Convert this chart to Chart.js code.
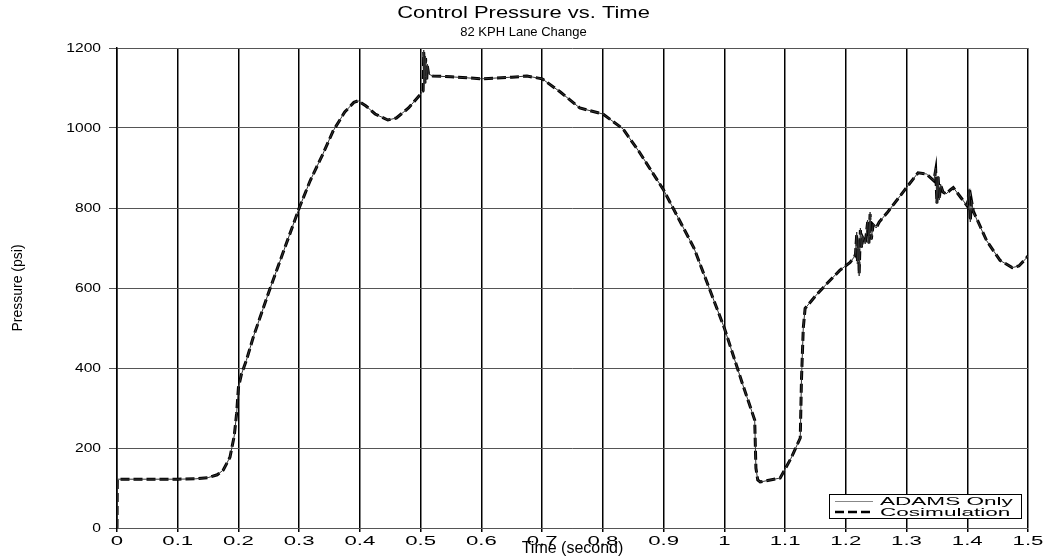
<!DOCTYPE html>
<html>
<head>
<meta charset="utf-8">
<script src="https://cdn.jsdelivr.net/npm/chart.js@4"></script>
<style>
  html, body { margin: 0; padding: 0; background: #fff; }
  #wrap { width: 1047px; height: 559px; }
</style>
</head>
<body>
<div id="wrap"><canvas id="myChart" width="1047" height="559"></canvas></div>
<script>
// time (s)
const times = [
    0, 0.0005, 0.05, 0.1, 0.13, 0.15, 0.165, 0.175, 0.186, 0.193, 0.197, 0.2, 0.205, 0.213, 0.225,
    0.25, 0.275, 0.3, 0.318, 0.339, 0.356, 0.375, 0.39, 0.397, 0.41, 0.425, 0.446, 0.46, 0.48,
    0.5, 0.504, 0.505, 0.507, 0.508, 0.51, 0.511, 0.513, 0.52, 0.55, 0.6, 0.65, 0.675, 0.7,
    0.73, 0.762, 0.8, 0.833, 0.86, 0.9, 0.95, 1.0, 1.03, 1.05, 1.052, 1.055, 1.059, 1.092,
    1.11, 1.125, 1.127, 1.13, 1.133, 1.15, 1.169, 1.19, 1.207, 1.215, 1.216, 1.218, 1.219,
    1.221, 1.222, 1.224, 1.226, 1.228, 1.232, 1.236, 1.238, 1.24, 1.242, 1.245, 1.25, 1.255,
    1.268, 1.3, 1.319, 1.333, 1.345, 1.348, 1.35, 1.352, 1.354, 1.356, 1.36, 1.365, 1.372,
    1.377, 1.39, 1.4, 1.403, 1.405, 1.407, 1.41, 1.432, 1.454, 1.474, 1.485, 1.498, 1.5
];

// pressure (psi)
const adamsOnly = [
    0, 122, 122, 122, 123, 126, 133, 145, 177, 230, 287, 352, 385, 419, 480,
    590, 695, 800, 868, 935, 993, 1040, 1064, 1068, 1055, 1035, 1020, 1025, 1050,
    1085, 1093, 1195, 1110, 1180, 1120, 1160, 1135, 1130, 1128, 1123, 1127, 1130, 1123,
    1090, 1050, 1035, 998, 940, 845, 700, 500, 360, 270, 150, 120, 115, 125,
    175, 225, 370, 500, 549, 580, 611, 644, 664, 680, 690, 740, 660,
    720, 630, 750, 700, 730, 710, 770, 710, 790, 720, 760, 750, 765,
    788, 851, 888, 885, 868, 900, 810, 880, 820, 860, 840, 835, 845,
    851, 825, 805, 848, 765, 820, 790, 718, 669, 651, 655, 676, 680
];

const cosimulation = [
    0, 122, 122, 122, 123, 126, 133, 145, 177, 230, 287, 352, 385, 419, 480,
    590, 695, 800, 868, 935, 993, 1040, 1064, 1068, 1055, 1035, 1020, 1025, 1050,
    1085, 1093, 1190, 1112, 1175, 1122, 1155, 1135, 1130, 1128, 1123, 1127, 1130, 1123,
    1090, 1050, 1035, 998, 940, 845, 700, 500, 360, 270, 150, 120, 115, 125,
    175, 225, 370, 500, 549, 580, 611, 644, 664, 680, 685, 735, 665,
    715, 635, 745, 700, 725, 712, 765, 712, 785, 722, 758, 750, 765,
    788, 851, 888, 885, 868, 895, 812, 878, 822, 858, 840, 835, 845,
    851, 825, 805, 845, 768, 818, 792, 718, 669, 651, 655, 676, 680
];

const seriesNames = ['ADAMS Only', 'Cosimulation'];

const FONT = '"Liberation Sans", Arial, sans-serif';

const toPoints = vals => vals.map((v, i) => ({ x: times[i], y: v }));

// the original uses wide, flat lettering: stretch tick labels sideways
function stretchTicks(scale, sx) {
    if (!scale || scale._stretched) return;
    scale._stretched = true;
    const getItems = scale.getLabelItems;
    scale.getLabelItems = function (area) {
        return getItems.call(this, area).map(it => ({
            ...it,
            options: { ...it.options, translation: [it.options.translation[0] / sx, it.options.translation[1]] }
        }));
    };
    const draw = scale.drawLabels;
    scale.drawLabels = function (area) {
        this.ctx.save();
        this.ctx.scale(sx, 1);
        draw.call(this, area);
        this.ctx.restore();
    };
}

function stretchBlock(block, sx) {
    if (!block || block._stretched) return;
    block._stretched = true;
    const draw = block.draw;
    block.draw = function () {
        const cx = (this.left + this.right) / 2;
        this.ctx.save();
        this.ctx.translate(cx * (1 - sx), 0);
        this.ctx.scale(sx, 1);
        draw.call(this);
        this.ctx.restore();
    };
}

const stretchText = {
    id: 'stretchText',
    beforeDraw(chart) {
        stretchTicks(chart.scales.x, 1.85);
        stretchTicks(chart.scales.y, 1.2);
        stretchBlock(chart.titleBlock, 1.29);
    }
};

// legend box drawn inside the plot, bottom right
const boxLegend = {
    id: 'boxLegend',
    afterDatasetsDraw(chart) {
        const ctx = chart.ctx;
        const area = chart.chartArea;
        const w = 192, h = 24;
        const x0 = area.right - w - 7, y0 = area.bottom - h - 10;
        ctx.save();
        ctx.fillStyle = '#fff';
        ctx.fillRect(x0, y0, w, h);
        ctx.strokeStyle = '#000';
        ctx.lineWidth = 1;
        ctx.strokeRect(x0 + 0.5, y0 + 0.5, w, h);
        ctx.font = '11px ' + FONT;
        ctx.textBaseline = 'middle';
        chart.data.datasets.forEach((ds, i) => {
            const yy = y0 + 7.5 + i * 10.5;
            ctx.beginPath();
            ctx.strokeStyle = i === 0 ? '#888' : ds.borderColor;
            ctx.lineWidth = i === 0 ? 1 : 2.5;
            ctx.setLineDash(ds.borderDash || []);
            ctx.moveTo(x0 + 6, yy);
            ctx.lineTo(x0 + 44, yy);
            ctx.stroke();
            ctx.setLineDash([]);
            ctx.save();
            ctx.translate(x0 + 51, yy + 0.5);
            ctx.scale(2.05, 1);
            ctx.fillStyle = '#000';
            ctx.fillText(ds.label, 0, 0);
            ctx.restore();
        });
        ctx.restore();
    }
};

const ctx = document.getElementById('myChart').getContext('2d');
const chart = new Chart(ctx, {
    type: 'line',
    data: {
        datasets: [
            {
                label: seriesNames[0],
                data: toPoints(adamsOnly),
                borderColor: '#333',
                borderWidth: 1,
                pointRadius: 0,
                tension: 0,
            },
            {
                label: seriesNames[1],
                data: toPoints(cosimulation),
                borderColor: '#000',
                borderWidth: 3,
                borderDash: [9, 4],
                pointRadius: 0,
                tension: 0,
            }
        ]
    },
    plugins: [stretchText, boxLegend],
    options: {
        responsive: false,
        animation: false,
        layout: { padding: 0 },
        plugins: {
            legend: { display: false },
            tooltip: { enabled: false },
            title: {
                display: true,
                text: 'Control Pressure vs. Time',
                color: '#000',
                font: { family: FONT, size: 17, weight: 'normal' },
                padding: { top: 3, bottom: 0 },
            },
            subtitle: {
                display: true,
                text: '82 KPH Lane Change',
                color: '#000',
                font: { family: FONT, size: 13 },
                padding: { top: 1, bottom: 8 },
            }
        },
        scales: {
            x: {
                type: 'linear',
                min: 0,
                max: 1.5,
                afterFit: scale => { scale.height = 31; },
                ticks: {
                    stepSize: 0.1,
                    color: '#000',
                    padding: 2,
                    maxRotation: 0,
                    autoSkip: false,
                    font: { family: FONT, size: 12 },
                    callback: v => String(+v.toFixed(1)),
                },
                grid: { color: '#000', lineWidth: 1.5, tickLength: 4 },
                border: { color: '#555' },
                title: {
                    display: true,
                    text: 'Time (second)',
                    color: '#000',
                    font: { family: FONT, size: 16 },
                    padding: { top: 0, bottom: 1 },
                }
            },
            y: {
                min: 0,
                max: 1200,
                afterFit: scale => { scale.width = 117; },
                ticks: {
                    stepSize: 200,
                    color: '#000',
                    padding: 8,
                    font: { family: FONT, size: 13 },
                    callback: v => String(v),
                },
                grid: { color: '#555', lineWidth: 1, tickLength: 8 },
                border: { color: '#000', width: 1.5 },
                title: {
                    display: true,
                    text: 'Pressure (psi)',
                    color: '#000',
                    font: { family: '"Liberation Sans Narrow", ' + FONT, size: 14 },
                    padding: { top: 10, bottom: 0 },
                }
            },
            // empty strip on the right so the plot ends where the original does
            y2: {
                position: 'right',
                display: true,
                afterFit: scale => { scale.width = 19; },
                grid: { display: false, drawTicks: false },
                ticks: { display: false },
                border: { display: false },
            }
        }
    }
});
</script>
</body>
</html>
